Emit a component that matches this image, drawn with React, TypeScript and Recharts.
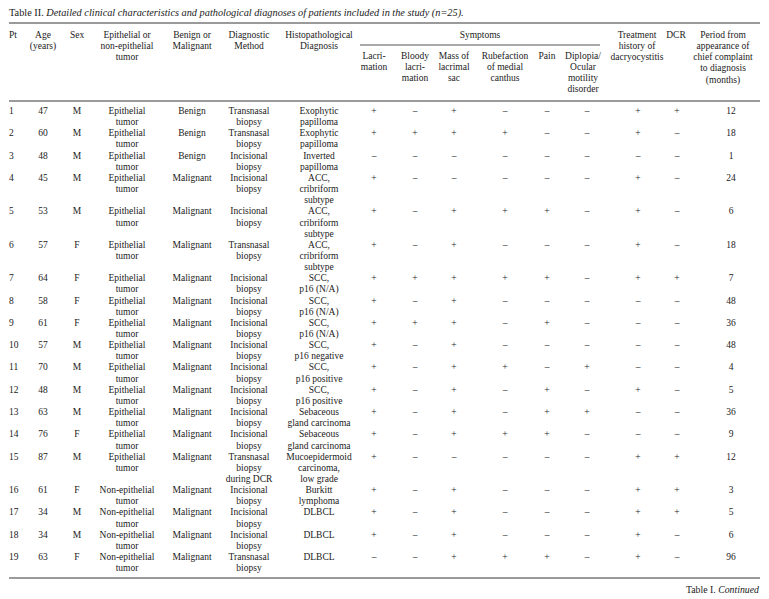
import React from 'react';
import { ScatterChart, Scatter, XAxis, YAxis, ReferenceLine } from 'recharts';

const W = 769;
const H = 599;

// ---------- data ----------
const patients = ['1','2','3','4','5','6','7','8','9','10','11','12','13','14','15','16','17','18','19'];
const ages = ['47','60','48','45','53','57','64','58','61','57','70','48','63','76','87','61','34','34','63'];
const sexes = ['M','M','M','M','M','F','F','F','F','M','M','M','M','F','M','F','M','M','F'];
const tumorTypes = [
  'Epithelial|tumor','Epithelial|tumor','Epithelial|tumor','Epithelial|tumor','Epithelial|tumor',
  'Epithelial|tumor','Epithelial|tumor','Epithelial|tumor','Epithelial|tumor','Epithelial|tumor',
  'Epithelial|tumor','Epithelial|tumor','Epithelial|tumor','Epithelial|tumor','Epithelial|tumor',
  'Non-epithelial|tumor','Non-epithelial|tumor','Non-epithelial|tumor','Non-epithelial|tumor',
];
const benignity = ['Benign','Benign','Benign','Malignant','Malignant','Malignant','Malignant','Malignant','Malignant','Malignant','Malignant','Malignant','Malignant','Malignant','Malignant','Malignant','Malignant','Malignant','Malignant'];
const methods = [
  'Transnasal|biopsy','Transnasal|biopsy','Incisional|biopsy','Incisional|biopsy','Incisional|biopsy',
  'Transnasal|biopsy','Incisional|biopsy','Incisional|biopsy','Incisional|biopsy','Incisional|biopsy',
  'Incisional|biopsy','Incisional|biopsy','Incisional|biopsy','Incisional|biopsy','Transnasal|biopsy|during DCR',
  'Incisional|biopsy','Incisional|biopsy','Incisional|biopsy','Transnasal|biopsy',
];
const histology = [
  'Exophytic|papilloma','Exophytic|papilloma','Inverted|papilloma','ACC,|cribriform|subtype','ACC,|cribriform|subtype',
  'ACC,|cribriform|subtype','SCC,|p16 (N/A)','SCC,|p16 (N/A)','SCC,|p16 (N/A)','SCC,|p16 negative',
  'SCC,|p16 positive','SCC,|p16 positive','Sebaceous|gland carcinoma','Sebaceous|gland carcinoma','Mucoepidermoid|carcinoma,|low grade',
  'Burkitt|lymphoma','DLBCL','DLBCL','DLBCL',
];
const P = '+';
const N = '–';
const lacrimation = [P,P,N,P,P,P,P,P,P,P,P,P,P,P,P,P,P,P,N];
const bloodyLacrimation = [N,P,N,N,N,N,P,N,P,N,N,N,N,N,N,N,N,N,N];
const massOfSac = [P,P,N,N,P,P,P,P,P,P,P,P,P,P,N,P,P,P,P];
const rubefaction = [N,P,N,N,P,N,P,N,N,N,P,N,N,P,N,N,N,N,P];
const pain = [N,N,N,N,P,N,P,N,P,N,N,P,P,P,N,N,N,N,P];
const diplopia = [N,N,N,N,N,N,N,N,N,N,P,N,P,N,N,N,N,N,N];
const treatmentHistory = [P,P,N,P,P,P,P,N,N,N,N,P,N,N,P,P,P,P,P];
const dcr = [P,N,N,N,N,N,P,N,N,N,N,N,N,N,P,P,P,N,N];
const periodMonths = ['12','18','1','24','6','18','7','48','36','48','4','5','36','9','12','3','5','6','96'];

const headers = [
  'Pt', 'Age|(years)', 'Sex', 'Epithelial or|non-epithelial|tumor', 'Benign or|Malignant',
  'Diagnostic|Method', 'Histopathological|Diagnosis',
];
const symptomGroup = 'Symptoms';
const symptomHeaders = [
  'Lacri-|mation', 'Bloody|lacri-|mation', 'Mass of|lacrimal|sac', 'Rubefaction|of medial|canthus',
  'Pain', 'Diplopia/|Ocular|motility|disorder',
];
const tailHeaders = [
  'Treatment|history of|dacryocystitis', 'DCR',
  'Period from|appearance of|chief complaint|to diagnosis|(months)',
];
const titleLead = 'Table II. ';
const titleItalic = 'Detailed clinical characteristics and pathological diagnoses of patients included in the study (n=25).';
const footerLead = 'Table I. ';
const footerItalic = 'Continued';

// ---------- layout ----------
const FONT = '"Liberation Serif", "Times New Roman", serif';
const FS = 9.5;
const LH = 11.15;
const colX = [9, 43, 77, 127, 192, 249, 319, 374, 415, 454, 505, 547, 587, 638, 677, 731];
const headX = [9, 43, 77, 127, 192, 249, 319, 374, 415, 454, 505, 547, 583, 637, 676, 723];
const anchors = ['start', ...Array(15).fill('middle')];
const TOP_RULE = 23;
const HEAD_RULE = 101;
const BOTTOM_RULE = 578;
const FIRST_BASE = 114;

const columns = [
  patients, ages, sexes, tumorTypes, benignity, methods, histology,
  lacrimation, bloodyLacrimation, massOfSac, rubefaction, pain, diplopia,
  treatmentHistory, dcr, periodMonths,
];

type Cell = { x: number; y: number; lines: string[]; anchor: string; kind?: string; size?: number };

const bodyCells: Cell[] = [];
{
  let base = FIRST_BASE;
  for (let r = 0; r < patients.length; r++) {
    let maxLines = 1;
    columns.forEach((col, c) => {
      const lines = String(col[r]).split('|');
      maxLines = Math.max(maxLines, lines.length);
      bodyCells.push({ x: colX[c], y: base, lines, anchor: anchors[c] });
    });
    base += maxLines * LH;
  }
}

const headCells: Cell[] = [];
headers.forEach((h, i) => headCells.push({ x: headX[i], y: 38, lines: h.split('|'), anchor: anchors[i] }));
headCells.push({ x: 480, y: 38, lines: [symptomGroup], anchor: 'middle' });
symptomHeaders.forEach((h, i) => headCells.push({ x: headX[7 + i], y: 58.5, lines: h.split('|'), anchor: 'middle' }));
tailHeaders.forEach((h, i) => headCells.push({ x: headX[13 + i], y: 38, lines: h.split('|'), anchor: 'middle' }));

const captionCells: Cell[] = [
  { x: 9, y: 15.5, lines: [titleLead, titleItalic], anchor: 'start', kind: 'title', size: 10.3 },
  { x: 759, y: 593, lines: [footerLead, footerItalic], anchor: 'end', kind: 'title', size: 9.8 },
];

const TextShape = (props: any) => {
  const { cx, cy, payload } = props;
  if (cx == null || cy == null || !payload) return null;
  if (payload.kind === 'title') {
    return (
      <text x={cx} y={cy} textAnchor={payload.anchor} fontFamily={FONT} fontSize={payload.size} fill="#1a1a1a">
        <tspan>{payload.lines[0]}</tspan>
        <tspan fontStyle="italic">{payload.lines[1]}</tspan>
      </text>
    );
  }
  return (
    <text x={cx} y={cy} textAnchor={payload.anchor} fontFamily={FONT} fontSize={FS} fill="#1a1a1a">
      {payload.lines.map((l: string, i: number) => (
        <tspan key={i} x={cx} dy={i === 0 ? 0 : LH}>{l}</tspan>
      ))}
    </text>
  );
};

export default function App() {
  return (
    <div style={{ position: 'absolute', left: 0, top: 0, width: W, height: H, background: '#fff' }}>
      <ScatterChart width={W} height={H} margin={{ top: 0, right: 0, bottom: 0, left: 0 }}>
        <XAxis type="number" dataKey="x" domain={[0, W]} hide allowDataOverflow />
        <YAxis type="number" dataKey="y" domain={[0, H]} hide reversed width={0} allowDataOverflow />
        <ReferenceLine segment={[{ x: 9, y: TOP_RULE }, { x: 760, y: TOP_RULE }]} stroke="#9a9a9a" strokeWidth={2} />
        <ReferenceLine segment={[{ x: 9, y: HEAD_RULE }, { x: 760, y: HEAD_RULE }]} stroke="#9a9a9a" strokeWidth={2} />
        <ReferenceLine segment={[{ x: 9, y: BOTTOM_RULE }, { x: 760, y: BOTTOM_RULE }]} stroke="#9a9a9a" strokeWidth={2} />
        <ReferenceLine segment={[{ x: 360, y: 45 }, { x: 600, y: 45 }]} stroke="#555" strokeWidth={1} />
        <Scatter data={captionCells} shape={TextShape} isAnimationActive={false} />
        <Scatter data={headCells} shape={TextShape} isAnimationActive={false} />
        <Scatter data={bodyCells} shape={TextShape} isAnimationActive={false} />
      </ScatterChart>
    </div>
  );
}
